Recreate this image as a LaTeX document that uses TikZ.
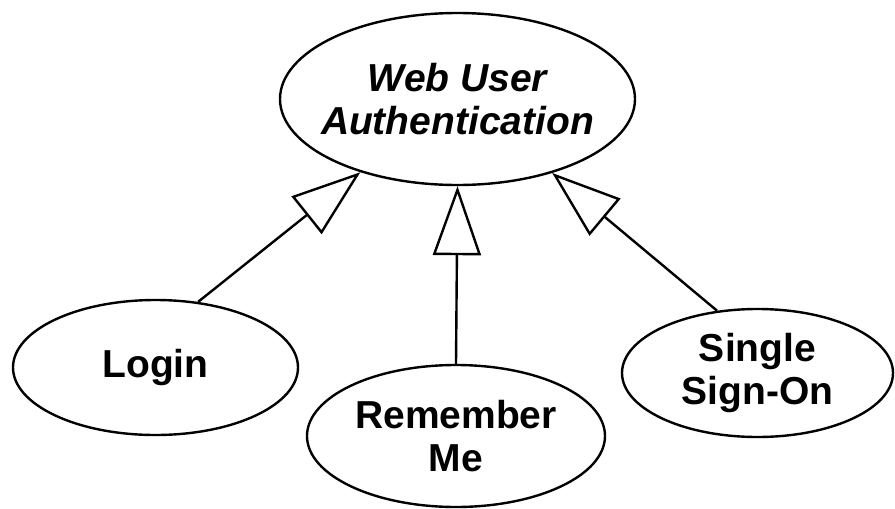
\documentclass[tikz,border=0pt]{standalone}
\usepackage{fontspec}
\setmainfont{Liberation Sans}
\usetikzlibrary{arrows.meta,shapes.geometric}
\begin{document}
\begin{tikzpicture}[x=1pt,y=-1pt,
  uc/.style={ellipse, draw=black, line width=2.4pt, inner sep=0pt},
  lbl/.style={font=\bfseries\fontsize{39}{43}\selectfont, align=center, inner sep=0pt},
  gen/.style={draw=black, line width=2.4pt, -{Triangle[open,length=69pt,width=48pt]}}]
\useasboundingbox (0,0) rectangle (895,509);
\node[uc, minimum width=355pt, minimum height=172pt] (web) at (457.5,99) {};
\node[uc, minimum width=285pt, minimum height=135pt] (login) at (155.5,367.5) {};
\node[uc, minimum width=298pt, minimum height=142pt] (remember) at (456,436) {};
\node[uc, minimum width=271pt, minimum height=128pt] (sso) at (757.5,373) {};
\node[lbl] (webt) at (web.center) {\itshape Web User\\\itshape Authentication};
\node[lbl] (logint) at (login.center) {Login};
\node[lbl] (remembert) at (remember.center) {Remember\\Me};
\node[lbl] (ssot) at (sso.center) {Single\\Sign-On};
\draw[gen] (login.57.6) -- (web.217.2);
\draw[gen] (remember.90) -- (web.270);
\draw[gen] (sso.123.2) -- (web.322.8);
\end{tikzpicture}
\end{document}
